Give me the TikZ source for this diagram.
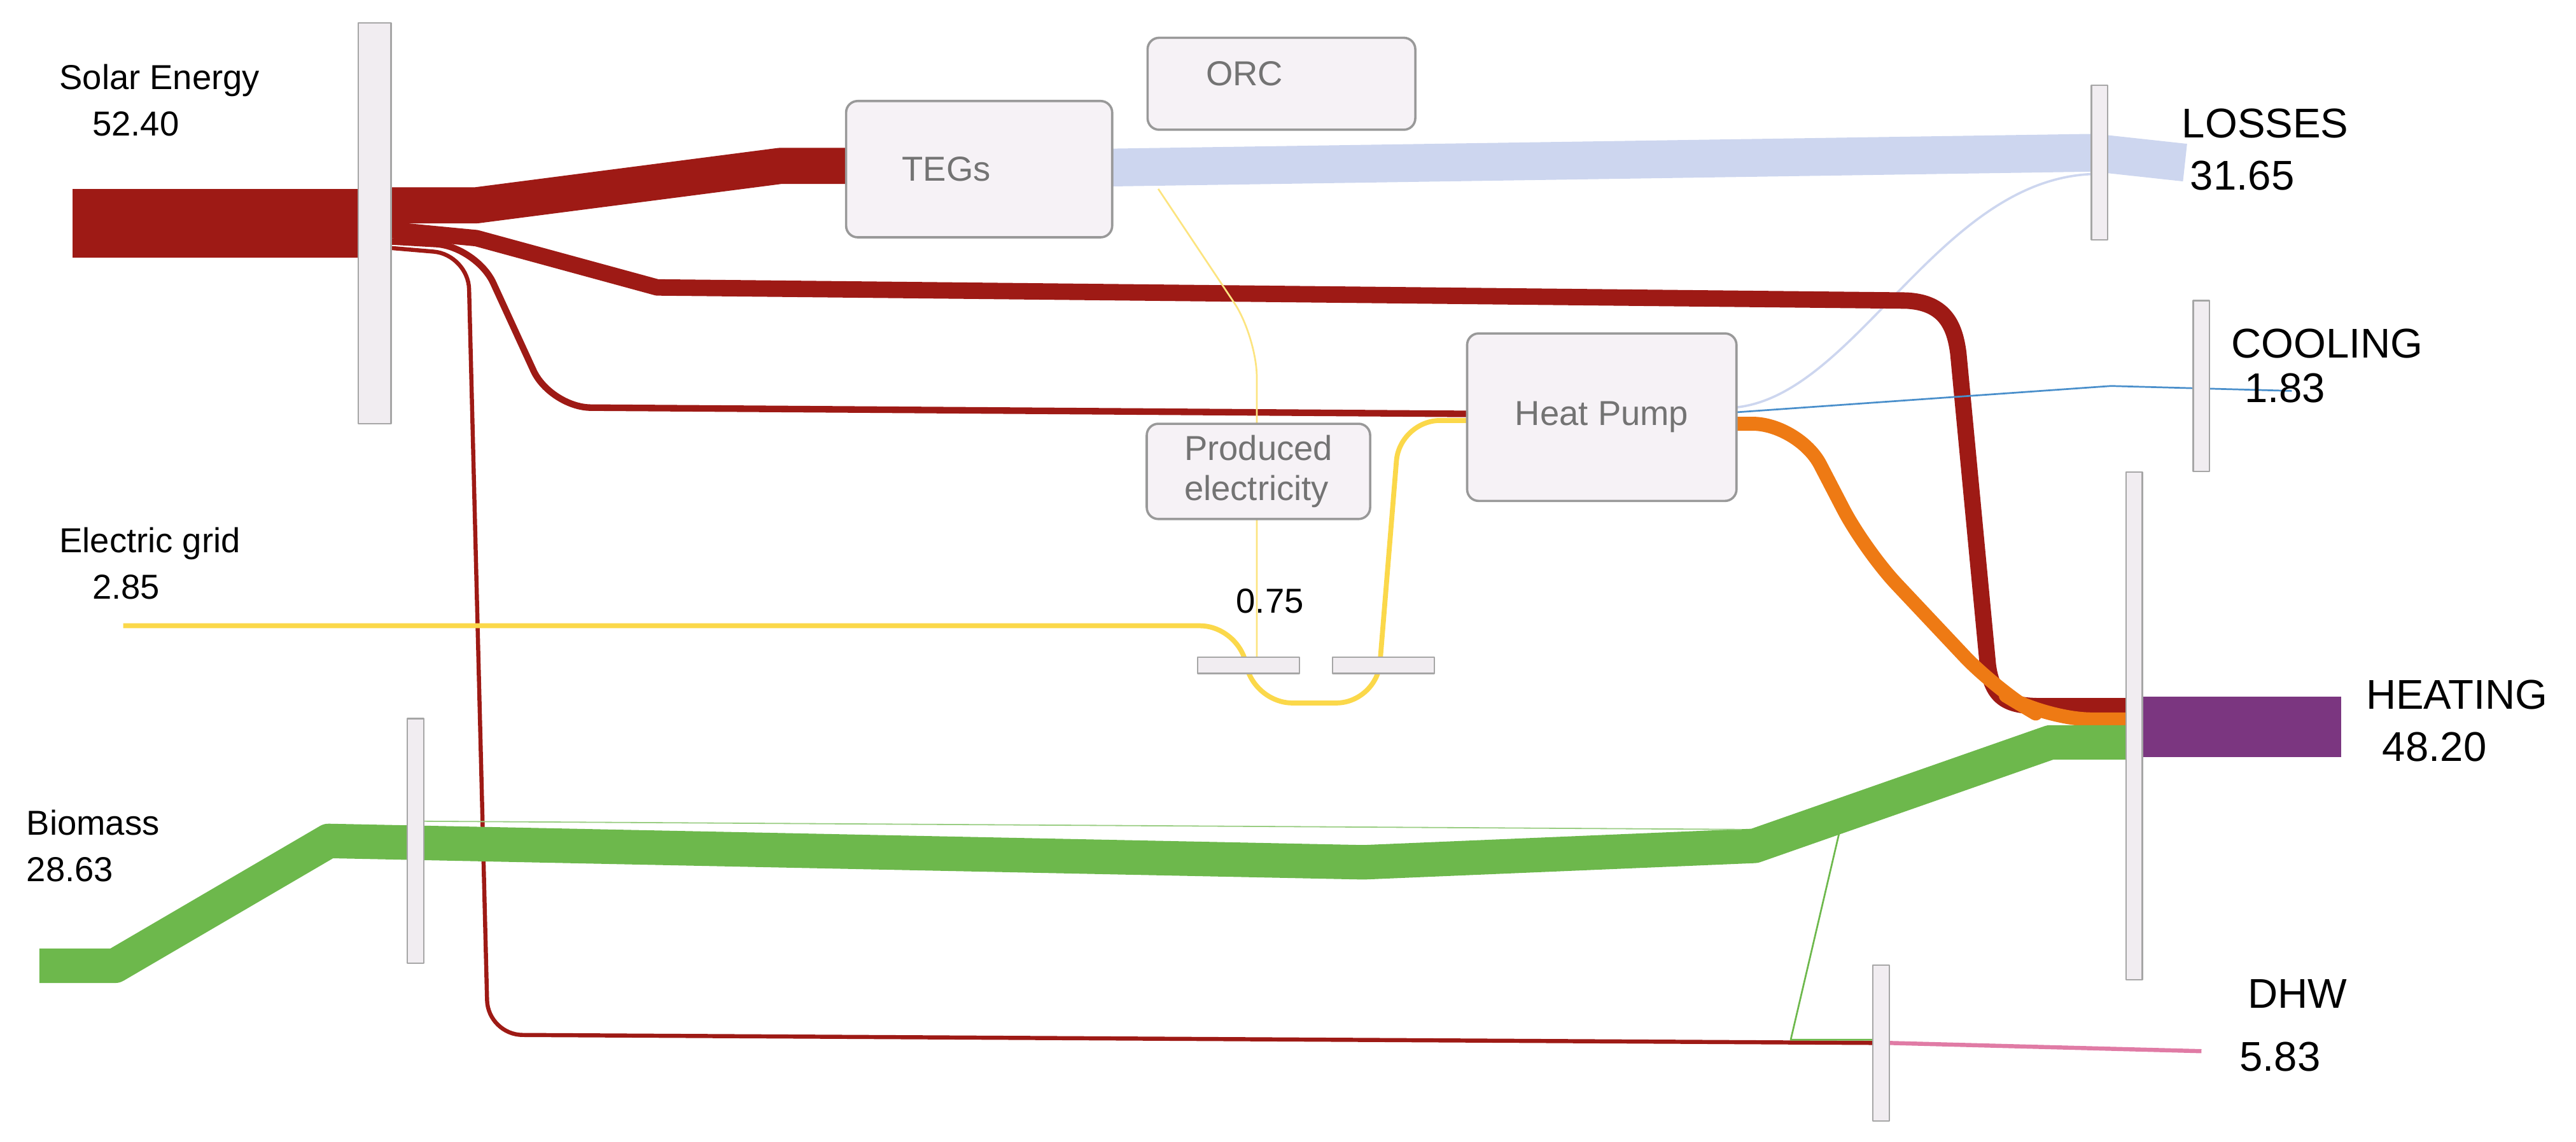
\documentclass[tikz,border=0pt]{standalone}
\usepackage{fontspec}
\setmainfont{Liberation Sans}
\begin{document}
\begin{tikzpicture}[x=0.02cm,y=-0.02cm,line join=round,
  bar/.style={draw=gray!70,fill=bargray,line width=0.5pt},
  box/.style={draw=gray!80,fill=boxfill,rounded corners=4pt,line width=0.8pt,text=gray!90!black,font=\large},
  lab/.style={font=\large,align=left,anchor=north west},
  big/.style={font=\Large,align=left,anchor=north west}]
\definecolor{bargray}{HTML}{F1EDF1}
\definecolor{boxfill}{HTML}{F6F2F6}
\definecolor{sred}{HTML}{9E1A15}
\definecolor{lblue}{HTML}{CDD6EF}
\definecolor{grn}{HTML}{6DB84C}
\definecolor{orng}{HTML}{EE7A14}
\definecolor{ylw}{HTML}{FBD84A}
\definecolor{purp}{HTML}{7B3680}
\definecolor{pink}{HTML}{E07BA5}
\definecolor{cblue}{HTML}{4A8FCB}
\useasboundingbox (0,0) rectangle (1568,695);
% flows
\fill[sred] (44,115) rectangle (220,157);
\draw[sred,line width=0.44cm] (238,125) -- (290,125) -- (475,101) -- (515,101);
\draw[lblue,line width=0.46cm] (677,102) -- (1275,93) -- (1330,99);
\draw[lblue,line width=0.8pt] (1057,248) .. controls (1130,240) and (1180,110) .. (1273,106);
\draw[sred,line width=0.2cm] (238,140) -- (290,145) -- (400,175) -- (1160,183) .. controls (1185,184) and (1190,200) .. (1192,215) -- (1210,405) .. controls (1213,428) and (1225,430) .. (1245,430) -- (1296,430);
\draw[sred,line width=0.08cm,rounded corners=14pt] (238,147) -- (290,150) -- (335,248) -- (893,252);
\draw[sred,line width=0.05cm,rounded corners=12pt] (238,151) -- (285,155) -- (297,630) -- (1142,635);
\draw[orng,line width=0.17cm,rounded corners=16pt] (1057,258) -- (1095,258) -- (1135,335) -- (1215,420) -- (1245,438) -- (1296,438);
\draw[cblue,line width=0.6pt] (1057,251) -- (1285,235) -- (1395,238);
\draw[grn,line width=0.42cm] (24,588) -- (70,588) -- (200,512) -- (830,525) -- (1068,515) -- (1248,452) -- (1296,452);
\draw[grn!70,line width=0.4pt] (258,500) -- (1060,505);
\draw[grn,line width=0.6pt] (1120,505) -- (1090,633) -- (1142,633);
\draw[pink,line width=0.05cm] (1150,635) -- (1340,640);
\draw[ylw,line width=0.06cm,rounded corners=14pt] (75,381) -- (755,381) -- (762,428) -- (838,428) -- (852,256) -- (893,256);
\draw[ylw!70,line width=0.6pt,rounded corners=14pt] (705,115) -- (765,205) -- (765,400);
\fill[purp] (1304,424) rectangle (1425,461);
% bars
\node[bar,minimum width=0.4cm,minimum height=4.88cm,inner sep=0] (b1) at (228,136) {};
\node[bar,minimum width=0.2cm,minimum height=2.98cm,inner sep=0] (b2) at (253,512) {};
\node[bar,minimum width=0.2cm,minimum height=1.88cm,inner sep=0] (b3) at (1278,99) {};
\node[bar,minimum width=0.2cm,minimum height=2.08cm,inner sep=0] (b4) at (1340,235) {};
\node[bar,minimum width=0.2cm,minimum height=6.18cm,inner sep=0] (b5) at (1299,442) {};
\node[bar,minimum width=0.2cm,minimum height=1.9cm,inner sep=0] (b6) at (1145,635) {};
\node[bar,minimum width=1.24cm,minimum height=0.2cm,inner sep=0] (b7) at (760,405) {};
\node[bar,minimum width=1.24cm,minimum height=0.2cm,inner sep=0] (b8) at (842,405) {};
% boxes
\node[box,minimum width=3.24cm,minimum height=1.66cm] (teg) at (596,103) {\hspace*{-0.8cm}TEGs};
\node[box,minimum width=3.26cm,minimum height=1.12cm] (orc) at (780,51) {\hspace*{-0.9cm}\raisebox{0.25cm}{ORC}};
\node[box,minimum width=3.28cm,minimum height=2.04cm] (hp) at (975,254) {Heat Pump};
\node[box,minimum width=2.72cm,minimum height=1.16cm,align=left,inner sep=2pt] (pe) at (766,287) {Produced\\electricity};
% labels
\node[lab] (l1) at (30,33) {Solar Energy\\[2pt]\hspace*{0.4cm}52.40};
\node[lab] (l2) at (30,315) {Electric grid\\[2pt]\hspace*{0.4cm}2.85};
\node[lab] (l3) at (10,487) {Biomass\\[2pt]28.63};
\node[font=\large] (l4) at (773,366) {0.75};
\node[big] (l5) at (1322,60) {LOSSES\\\hspace*{0.1cm}31.65};
\node[big] (l6) at (1352,194) {COOLING};
\node[big] (l6b) at (1360,221) {1.83};
\node[big] (l7) at (1434,408) {HEATING\\\hspace*{0.2cm}48.20};
\node[big] (l8) at (1362,590) {DHW\\[4pt]\hspace*{-0.1cm}5.83};
\end{tikzpicture}
\end{document}
